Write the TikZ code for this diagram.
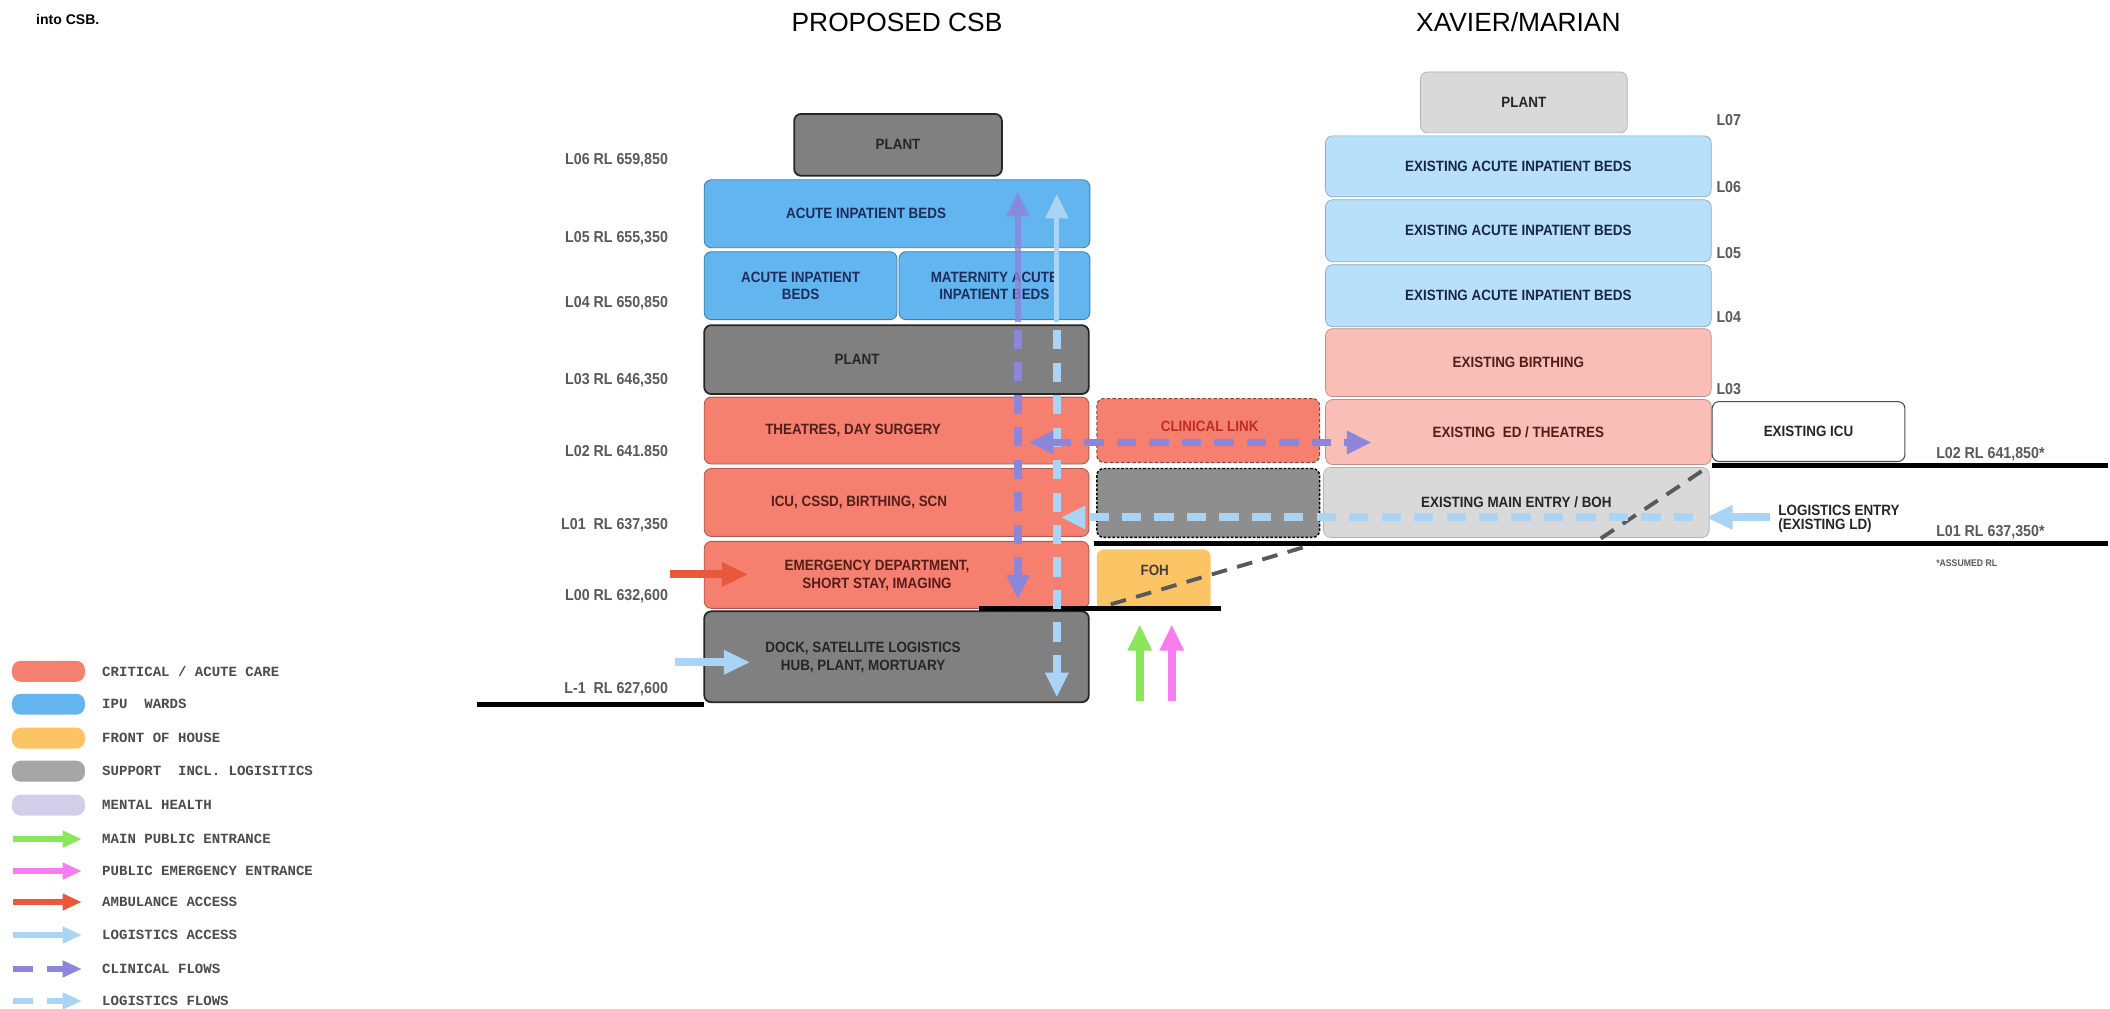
\documentclass[tikz,border=0pt]{standalone}
\usepackage{fontspec}
\setmainfont{Liberation Sans}
\setmonofont{Liberation Mono}
\newfontfamily\boxfont{Liberation Sans}[FakeStretch=0.9]
\usetikzlibrary{arrows.meta}

\definecolor{crit}{RGB}{246,128,112}
\definecolor{ipu}{RGB}{98,181,238}
\definecolor{foh}{RGB}{253,196,102}
\definecolor{supp}{RGB}{166,166,166}
\definecolor{plantgrey}{RGB}{128,128,128}
\definecolor{linkgrey}{RGB}{142,142,142}
\definecolor{mental}{RGB}{210,205,232}
\definecolor{pubgreen}{RGB}{138,230,90}
\definecolor{emgpink}{RGB}{247,124,240}
\definecolor{amb}{RGB}{232,88,58}
\definecolor{logblue}{RGB}{170,212,245}
\definecolor{clin}{RGB}{140,133,219}
\definecolor{xblue}{RGB}{185,224,250}
\definecolor{xred}{RGB}{249,190,182}
\definecolor{xgrey}{RGB}{217,217,217}
\definecolor{navy}{RGB}{28,45,92}
\definecolor{darkred}{RGB}{84,30,24}
\definecolor{linkred}{RGB}{190,45,35}

\begin{document}
\begin{tikzpicture}[x=0.2mm,y=-0.2mm,
  sz/.style 2 args={minimum width=#1*0.2mm,minimum height=#2*0.2mm},
  zone/.style={rectangle,rounded corners=4pt,inner sep=1pt,align=center,font=\boxfont\bfseries\fontsize{8.5}{10}\selectfont},
  txt/.style={inner sep=0pt,align=center,font=\boxfont\bfseries\fontsize{8.5}{10}\selectfont},
  ipubox/.style={zone,fill=ipu,draw=ipu!70!black,line width=0.5pt,text=navy},
  critbox/.style={zone,fill=crit,draw=crit!70!black,line width=0.5pt,text=darkred},
  plantbox/.style={zone,fill=plantgrey,draw=black!85,line width=1pt,text=black!85},
  xbluebox/.style={zone,fill=xblue,draw=xblue!75!black,line width=0.4pt,text=navy!85!black},
  xredbox/.style={zone,fill=xred,draw=xred!75!black,line width=0.4pt,text=darkred},
  xgreybox/.style={zone,fill=xgrey,draw=black!30,line width=0.4pt,text=black!85},
  lvl/.style={inner sep=0pt,font=\boxfont\bfseries\fontsize{9}{10}\selectfont,text=black!65},
  ground/.style={line width=2.6pt,black},
  access/.style={line width=4.5pt,-{Triangle[length=15pt,width=13pt]}},
  flow/.style={line width=4.5pt,dash pattern=on 11pt off 7.5pt},
  riser/.style={line width=3pt,opacity=0.8},
  tip/.style={-{Triangle[length=14pt,width=12.5pt]}},
  tail/.style={{Triangle[length=14pt,width=12.5pt]}-},
  both/.style={{Triangle[length=14pt,width=12.5pt]}-{Triangle[length=14pt,width=12.5pt]}},
  keyswatch/.style={rectangle,rounded corners=5pt,minimum width=73*0.2mm,minimum height=21*0.2mm,inner sep=0pt},
  keytxt/.style={anchor=west,inner sep=0pt,font=\ttfamily\bfseries\fontsize{8}{9}\selectfont,text=black!70},
  keyarrow/.style={line width=3pt,-{Triangle[length=11pt,width=9pt]}}]
\path[fill=white] (0,0) rectangle (2110,1010);

% titles
\node[anchor=west,font=\bfseries\fontsize{8}{9}\selectfont] (intro) at (30,20) {into CSB.};
\node[font=\fontsize{15}{17}\selectfont] (csbtitle) at (898,22) {PROPOSED CSB};
\node[font=\fontsize{15}{17}\selectfont] (xmtitle) at (1520,22) {XAVIER/MARIAN};

% proposed CSB
\node[plantbox,sz={208}{62}] (csbplant) at (899,145) {PLANT};
\node[ipubox,sz={386}{68}] (ipuL5) at (898,214) {};
\node[txt,text=navy] (ipuL5t) at (867,214) {ACUTE INPATIENT BEDS};
\node[ipubox,sz={193}{68}] (ipuL4a) at (801.5,286) {ACUTE INPATIENT\\BEDS};
\node[ipubox,sz={191}{68}] (ipuL4b) at (995.5,286) {MATERNITY ACUTE\\INPATIENT BEDS};
\node[plantbox,sz={385}{69}] (plantL3) at (897.5,360) {};
\node[txt,text=black!85] (plantL3t) at (858,360) {PLANT};
\node[critbox,sz={385}{67}] (thtr) at (897.5,431) {};
\node[txt,text=darkred] (thtrt) at (854,431) {THEATRES, DAY SURGERY};
\node[critbox,sz={385}{68}] (icu) at (897.5,503) {};
\node[txt,text=darkred] (icut) at (860,503) {ICU, CSSD, BIRTHING, SCN};
\node[critbox,sz={385}{67}] (ed) at (897.5,575.5) {};
\node[txt,text=darkred] (edt) at (878,576) {EMERGENCY DEPARTMENT,\\SHORT STAY, IMAGING};
\node[plantbox,sz={385}{91}] (dock) at (897.5,657.5) {};
\node[txt,text=black!85] (dockt) at (864,658) {DOCK, SATELLITE LOGISTICS\\HUB, PLANT, MORTUARY};

% levels
\node[lvl,anchor=east] (rl6) at (669,160) {L06 RL 659,850};
\node[lvl,anchor=east] (rl5) at (669,238) {L05 RL 655,350};
\node[lvl,anchor=east] (rl4) at (669,304) {L04 RL 650,850};
\node[lvl,anchor=east] (rl3) at (669,381) {L03 RL 646,350};
\node[lvl,anchor=east] (rl2) at (669,452) {L02 RL 641.850};
\node[lvl,anchor=east] (rl1) at (669,526) {L01\ \ RL 637,350};
\node[lvl,anchor=east] (rl0) at (669,597) {L00 RL 632,600};
\node[lvl,anchor=east] (rlb) at (669,690) {L-1\ \ RL 627,600};

% link between
\node[zone,sz={223}{64},fill=crit,draw=crit!55!black,line width=0.6pt,dash pattern=on 2pt off 1.2pt] (clink) at (1209.5,431) {};
\node[txt,text=linkred] (clinkt) at (1211,427) {CLINICAL LINK};
\node[zone,sz={223}{69},fill=linkgrey,draw=black,line width=0.8pt,dash pattern=on 1.5pt off 1pt] (lgrey) at (1209.5,503.5) {};
\node[zone,sz={114}{60},fill=foh] (foh) at (1155,580) {};
\node[txt,text=black!75] (foht) at (1156,571) {FOH};

% xavier/marian
\node[xgreybox,sz={207}{61}] (xplant) at (1525.5,102.5) {PLANT};
\node[xbluebox,sz={386}{61}] (xipu6) at (1520,166.5) {EXISTING ACUTE INPATIENT BEDS};
\node[xbluebox,sz={386}{62}] (xipu5) at (1520,231) {EXISTING ACUTE INPATIENT BEDS};
\node[xbluebox,sz={386}{62}] (xipu4) at (1520,296) {EXISTING ACUTE INPATIENT BEDS};
\node[xredbox,sz={386}{68}] (xbirth) at (1520,363) {EXISTING BIRTHING};
\node[xredbox,sz={386}{65}] (xed) at (1520,432.5) {EXISTING\ \ ED / THEATRES};
\node[xgreybox,sz={386}{70}] (xboh) at (1518,503) {EXISTING MAIN ENTRY / BOH};
\node[zone,sz={193}{60},fill=white,draw=black!70,line width=0.6pt,text=black!85] (xicu) at (1810.5,432) {EXISTING ICU};

\node[lvl,anchor=west] (xl7) at (1718,120) {L07};
\node[lvl,anchor=west] (xl6) at (1718,187) {L06};
\node[lvl,anchor=west] (xl5) at (1718,253) {L05};
\node[lvl,anchor=west] (xl4) at (1718,317) {L04};
\node[lvl,anchor=west] (xl3) at (1718,389) {L03};
\node[lvl,anchor=west] (xrl2) at (1938,455) {L02 RL 641,850*};
\node[lvl,anchor=west] (xrl1) at (1938,533) {L01 RL 637,350*};
\node[lvl,anchor=west,font=\boxfont\bfseries\fontsize{5.5}{6}\selectfont] (assumed) at (1938,564) {*ASSUMED RL};
\node[lvl,anchor=west,align=left,text=black!85,font=\boxfont\bfseries\fontsize{8.5}{8}\selectfont] (logentry) at (1780,519) {LOGISTICS ENTRY\\(EXISTING LD)};

% ground
\draw[line width=2.2pt,black!65,dash pattern=on 9pt off 6pt] (1112,605) -- (1318,544) -- (1595,544) -- (1712,466);
\draw[ground] (478,705) -- (705,705);
\draw[ground] (980,609) -- (1222,609);
\draw[ground] (1095,544) -- (2110,544);
\draw[ground] (1714,466) -- (2110,466);

% flows
\coordinate (clinlo) at (1019,600);
\coordinate (clinmid) at (1019,322);
\coordinate (clinhi) at (1019,192);
\coordinate (clinw) at (1030,443);
\coordinate (cline) at (1373,443);
\coordinate (loglo) at (1058,698);
\coordinate (logmid) at (1058,322);
\coordinate (loghi) at (1058,194);
\coordinate (logw) at (1062,518);
\coordinate (loge) at (1695,518);
\draw[flow,clin,tail] (clinlo) -- (clinmid);
\draw[riser,clin,tip] (clinmid) -- (clinhi);
\draw[flow,logblue,tail] (loglo) -- (logmid);
\draw[riser,logblue,opacity=1,tip] (logmid) -- (loghi);
\draw[flow,clin,both] (clinw) -- (cline);
\draw[flow,logblue,tip] (loge) -- (logw);

% access
\coordinate (ambin) at (671,575);
\coordinate (ambtip) at (749,575);
\coordinate (dockin) at (676,663);
\coordinate (docktip) at (751,663);
\coordinate (pubin) at (1141,702);
\coordinate (pubtip) at (1141,625);
\coordinate (emgin) at (1173,702);
\coordinate (emgtip) at (1173,625);
\coordinate (ldin) at (1772,518);
\coordinate (ldtip) at (1708,518);
\draw[access,amb] (ambin) -- (ambtip);
\draw[access,logblue] (dockin) -- (docktip);
\draw[access,pubgreen] (pubin) -- (pubtip);
\draw[access,emgpink] (emgin) -- (emgtip);
\draw[access,logblue] (ldin) -- (ldtip);

% legend
\node[keyswatch,fill=crit] (kcrit) at (48.5,672) {};
\node[keyswatch,fill=ipu] (kipu) at (48.5,705) {};
\node[keyswatch,fill=foh] (kfoh) at (48.5,739) {};
\node[keyswatch,fill=supp] (ksupp) at (48.5,772) {};
\node[keyswatch,fill=mental] (kmh) at (48.5,806) {};
\coordinate (kpubw) at (13,840);   \coordinate (kpube) at (82,840);
\coordinate (kemgw) at (13,872);   \coordinate (kemge) at (82,872);
\coordinate (kambw) at (13,903);   \coordinate (kambe) at (82,903);
\coordinate (klaw) at (13,936);    \coordinate (klae) at (82,936);
\coordinate (kcfw) at (13,970);    \coordinate (kcfe) at (82,970);
\coordinate (klfw) at (13,1002);   \coordinate (klfe) at (82,1002);
\draw[keyarrow,pubgreen] (kpubw) -- (kpube);
\draw[keyarrow,emgpink] (kemgw) -- (kemge);
\draw[keyarrow,amb] (kambw) -- (kambe);
\draw[keyarrow,logblue] (klaw) -- (klae);
\draw[keyarrow,clin,dash pattern=on 11.4pt off 8pt] (kcfw) -- (kcfe);
\draw[keyarrow,logblue,dash pattern=on 11.4pt off 8pt] (klfw) -- (klfe);
\node[keytxt] (tcrit) at (102,672) {CRITICAL / ACUTE CARE};
\node[keytxt] (tipu) at (102,705) {IPU\ \ WARDS};
\node[keytxt] (tfoh) at (102,739) {FRONT OF HOUSE};
\node[keytxt] (tsupp) at (102,772) {SUPPORT\ \ INCL. LOGISITICS};
\node[keytxt] (tmh) at (102,806) {MENTAL HEALTH};
\node[keytxt] (tpub) at (102,840) {MAIN PUBLIC ENTRANCE};
\node[keytxt] (temg) at (102,872) {PUBLIC EMERGENCY ENTRANCE};
\node[keytxt] (tamb) at (102,903) {AMBULANCE ACCESS};
\node[keytxt] (tla) at (102,936) {LOGISTICS ACCESS};
\node[keytxt] (tcf) at (102,970) {CLINICAL FLOWS};
\node[keytxt] (tlf) at (102,1002) {LOGISTICS FLOWS};
\end{tikzpicture}
\end{document}
